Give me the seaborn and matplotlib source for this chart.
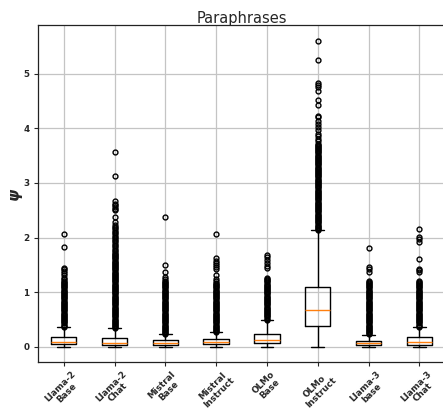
import matplotlib
matplotlib.use("Agg")
import matplotlib.pyplot as plt
import seaborn as sns

# === Data ===
models = ["Llama-2\nBase", "Llama-2\nChat", "Mistral\nBase", "Mistral\nInstruct",
          "OLMo\nBase", "OLMo\nInstruct", "Llama-3\nbase", "Llama-3\nChat"]

q1 = [0.06, 0.03, 0.04, 0.06, 0.075, 0.39, 0.045, 0.045]
median = [0.10, 0.07, 0.08, 0.10, 0.135, 0.685, 0.08, 0.09]
q3 = [0.19, 0.165, 0.12, 0.155, 0.245, 1.09, 0.117, 0.18]
whis_lo = [0.0, 0.0, 0.0, 0.0, 0.0, 0.0, 0.0, 0.0]
whis_hi = [0.37, 0.34, 0.23, 0.27, 0.50, 2.14, 0.227, 0.37]

# outliers (the dense runs are read as closely packed points)
fliers_llama2_base = [
    0.37, 0.39, 0.41, 0.43, 0.45, 0.47, 0.49, 0.51, 0.53, 0.55, 0.57, 0.59,
    0.61, 0.63, 0.65, 0.67, 0.69, 0.71, 0.73, 0.75, 0.77, 0.79, 0.81, 0.83,
    0.85, 0.87, 0.89, 0.91, 0.93, 0.95, 0.97, 0.99, 1.01, 1.03, 1.05, 1.07,
    1.09, 1.11, 1.13, 1.15, 1.17, 1.19, 1.21, 1.24, 1.27, 1.31, 1.35, 1.39,
    1.42, 1.45, 1.82, 2.07]
fliers_llama2_chat = [
    0.34, 0.36, 0.38, 0.40, 0.42, 0.44, 0.46, 0.48, 0.50, 0.52, 0.54, 0.56,
    0.58, 0.60, 0.62, 0.64, 0.66, 0.68, 0.70, 0.72, 0.74, 0.76, 0.78, 0.80,
    0.82, 0.84, 0.86, 0.88, 0.90, 0.92, 0.94, 0.96, 0.98, 1.00, 1.02, 1.04,
    1.06, 1.08, 1.10, 1.12, 1.14, 1.16, 1.18, 1.20, 1.22, 1.24, 1.26, 1.28,
    1.30, 1.32, 1.34, 1.36, 1.38, 1.40, 1.42, 1.44, 1.46, 1.48, 1.50, 1.52,
    1.54, 1.56, 1.58, 1.60, 1.62, 1.64, 1.66, 1.68, 1.70, 1.72, 1.75, 1.78,
    1.81, 1.84, 1.87, 1.90, 1.93, 1.96, 1.99, 2.02, 2.05, 2.08, 2.11, 2.14,
    2.17, 2.20, 2.23, 2.29, 2.37, 2.50, 2.53, 2.56, 2.59, 2.62, 2.67, 3.13,
    3.57]
fliers_mistral_base = [
    0.23, 0.25, 0.27, 0.29, 0.31, 0.33, 0.35, 0.37, 0.39, 0.41, 0.43, 0.45,
    0.47, 0.49, 0.51, 0.53, 0.55, 0.57, 0.59, 0.61, 0.63, 0.65, 0.67, 0.69,
    0.71, 0.73, 0.75, 0.77, 0.79, 0.81, 0.83, 0.85, 0.87, 0.89, 0.91, 0.93,
    0.95, 0.97, 0.99, 1.01, 1.03, 1.05, 1.07, 1.09, 1.11, 1.13, 1.15, 1.17,
    1.19, 1.21, 1.25, 1.28, 1.38, 1.50, 2.38]
fliers_mistral_inst = [
    0.27, 0.29, 0.31, 0.33, 0.35, 0.37, 0.39, 0.41, 0.43, 0.45, 0.47, 0.49,
    0.51, 0.53, 0.55, 0.57, 0.59, 0.61, 0.63, 0.65, 0.67, 0.69, 0.71, 0.73,
    0.75, 0.77, 0.79, 0.81, 0.83, 0.85, 0.87, 0.89, 0.91, 0.93, 0.95, 0.97,
    0.99, 1.01, 1.03, 1.05, 1.07, 1.09, 1.11, 1.13, 1.15, 1.17, 1.20, 1.25,
    1.31, 1.42, 1.46, 1.50, 1.54, 1.58, 1.62, 2.07]
fliers_olmo_base = [
    0.50, 0.52, 0.54, 0.56, 0.58, 0.60, 0.62, 0.64, 0.66, 0.68, 0.70, 0.72,
    0.74, 0.76, 0.78, 0.80, 0.82, 0.84, 0.86, 0.88, 0.90, 0.92, 0.94, 0.96,
    0.98, 1.00, 1.02, 1.04, 1.06, 1.08, 1.10, 1.12, 1.14, 1.16, 1.18, 1.20,
    1.22, 1.24, 1.26, 1.44, 1.48, 1.54, 1.59, 1.64, 1.69]
fliers_olmo_inst = [
    2.14, 2.16, 2.18, 2.20, 2.22, 2.24, 2.26, 2.28, 2.30, 2.32, 2.34, 2.36,
    2.38, 2.40, 2.42, 2.44, 2.46, 2.48, 2.50, 2.52, 2.54, 2.56, 2.58, 2.60,
    2.62, 2.64, 2.66, 2.68, 2.70, 2.72, 2.74, 2.76, 2.78, 2.80, 2.82, 2.84,
    2.86, 2.88, 2.90, 2.92, 2.94, 2.96, 2.98, 3.00, 3.02, 3.04, 3.06, 3.08,
    3.10, 3.12, 3.14, 3.16, 3.18, 3.20, 3.22, 3.24, 3.26, 3.28, 3.30, 3.32,
    3.34, 3.36, 3.38, 3.40, 3.42, 3.44, 3.46, 3.48, 3.50, 3.52, 3.54, 3.56,
    3.58, 3.60, 3.62, 3.64, 3.66, 3.68, 3.70, 3.72, 3.76, 3.80, 3.85, 3.90,
    3.96, 4.02, 4.08, 4.14, 4.20, 4.22, 4.43, 4.52, 4.68, 4.75, 4.80, 4.82,
    5.25, 5.60]
fliers_llama3_base = [
    0.23, 0.25, 0.27, 0.29, 0.31, 0.33, 0.35, 0.37, 0.39, 0.41, 0.43, 0.45,
    0.47, 0.49, 0.51, 0.53, 0.55, 0.57, 0.59, 0.61, 0.63, 0.65, 0.67, 0.69,
    0.71, 0.73, 0.75, 0.77, 0.79, 0.81, 0.83, 0.85, 0.87, 0.89, 0.91, 0.93,
    0.95, 0.97, 0.99, 1.01, 1.03, 1.05, 1.07, 1.09, 1.11, 1.13, 1.15, 1.17,
    1.19, 1.21, 1.38, 1.42, 1.47, 1.81]
fliers_llama3_chat = [
    0.37, 0.39, 0.41, 0.43, 0.45, 0.47, 0.49, 0.51, 0.53, 0.55, 0.57, 0.59,
    0.61, 0.63, 0.65, 0.67, 0.69, 0.71, 0.73, 0.75, 0.77, 0.79, 0.81, 0.83,
    0.85, 0.87, 0.89, 0.91, 0.93, 0.95, 0.97, 0.99, 1.01, 1.03, 1.05, 1.07,
    1.09, 1.11, 1.13, 1.15, 1.17, 1.19, 1.21, 1.38, 1.40, 1.43, 1.60, 1.92,
    1.97, 2.01, 2.16]

fliers = [fliers_llama2_base, fliers_llama2_chat, fliers_mistral_base,
          fliers_mistral_inst, fliers_olmo_base, fliers_olmo_inst,
          fliers_llama3_base, fliers_llama3_chat]

# === Box stats for bxp ===
stats = []
for i, name in enumerate(models):
    stats.append({
        "label": name,
        "q1": q1[i], "med": median[i], "q3": q3[i],
        "whislo": whis_lo[i], "whishi": whis_hi[i],
        "fliers": fliers[i],
    })

sns.set_style("white")
plt.rcParams["font.family"] = ["DejaVu Sans"]

fig = plt.figure(figsize=(4.43, 4.09), dpi=100)
ax = fig.add_axes([0.0865, 0.1142, 0.9175, 0.8235])

ax.bxp(stats, positions=range(1, 9), widths=0.5,
       boxprops=dict(color="black", linewidth=1),
       whiskerprops=dict(color="black", linewidth=1),
       capprops=dict(color="black", linewidth=1),
       medianprops=dict(color="#ff7f0e", linewidth=1),
       flierprops=dict(marker="o", markerfacecolor="none",
                       markeredgecolor="black", markersize=3.5,
                       markeredgewidth=1.0))

ax.grid(True, color="#c4c4c4", linewidth=0.9)
ax.set_axisbelow(True)
for s in ax.spines.values():
    s.set_color("#222222")
    s.set_linewidth(0.9)

ax.tick_params(axis="both", which="major", length=3, width=0.8,
               bottom=True, left=True, labelsize=6.3)
ax.tick_params(axis="x", pad=2)
for lab in ax.get_xticklabels():
    lab.set_rotation(45)
    lab.set_fontweight("bold")
    lab.set_linespacing(1.0)
for lab in ax.get_yticklabels():
    lab.set_fontweight("bold")

ax.set_title("Paraphrases", fontsize=10.5, pad=2)
ax.set_ylabel("ψ", fontsize=11, fontweight="bold", fontstyle="italic",
              labelpad=1)

fig.savefig("out.png", dpi=100)
